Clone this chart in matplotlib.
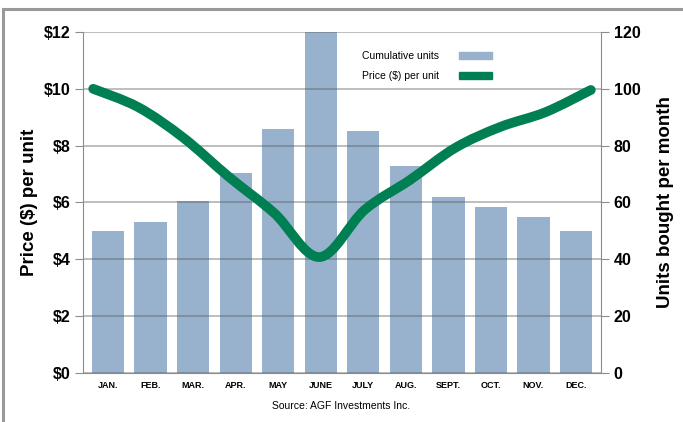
import numpy as np
import matplotlib
matplotlib.use('Agg')
import matplotlib.pyplot as plt
from matplotlib.patches import Patch, PathPatch
from matplotlib.lines import Line2D
from matplotlib.path import Path

plt.rcParams['font.family'] = ['Liberation Sans', 'DejaVu Sans']

# 数据
months = ['JAN.', 'FEB.', 'MAR.', 'APR.', 'MAY', 'JUNE', 'JULY', 'AUG.', 'SEPT.', 'OCT.', 'NOV.', 'DEC.']
units = [50, 53, 60.5, 70.5, 86, 121, 85, 73, 62, 58.5, 55, 50]
price = [10.0, 9.35, 8.27, 6.9, 5.63, 4.08, 5.74, 6.79, 7.92, 8.66, 9.18, 9.96]
price_ticks = [0, 2, 4, 6, 8, 10, 12]
unit_ticks = [0, 20, 40, 60, 80, 100, 120]

bar_color = '#98B2CD'
line_color = '#008052'
gray = '#8c8c8c'


def smooth_path(xs, ys):
    # Catmull-Rom -> 三次贝塞尔, 只是画法, 数据点不变
    verts = [(xs[0], ys[0])]
    codes = [Path.MOVETO]
    n = len(xs)
    for i in range(n - 1):
        p0 = np.array([xs[max(i - 1, 0)], ys[max(i - 1, 0)]])
        p1 = np.array([xs[i], ys[i]])
        p2 = np.array([xs[i + 1], ys[i + 1]])
        p3 = np.array([xs[min(i + 2, n - 1)], ys[min(i + 2, n - 1)]])
        c1 = p1 + (p2 - p0) / 6
        c2 = p2 - (p3 - p1) / 6
        verts += [tuple(c1), tuple(c2), tuple(p2)]
        codes += [Path.CURVE4] * 3
    return Path(verts, codes)


fig = plt.figure(figsize=(6.83, 4.22), dpi=100)
ax = fig.add_axes([0.1215, 0.1161, 0.7585, 0.8081])
ax2 = ax.twinx()

x = np.arange(len(months))
ax2.bar(x, units, width=0.76, color=bar_color, zorder=1)
ax2.set_ylim(0, 120)
ax2.set_yticks(unit_ticks)

# 价格线, 起止点比柱子稍宽一点
xl = np.linspace(-0.35, 11.35, len(price))
ax.add_patch(PathPatch(smooth_path(xl, price), facecolor='none', edgecolor=line_color,
                       lw=7, capstyle='round', joinstyle='round', zorder=3))
ax.set_ylim(0, 12)
ax.set_yticks(price_ticks)
ax.set_yticklabels([f'${v}' for v in price_ticks])
ax.set_xlim(-0.59, 11.59)
ax.set_xticks(x)
ax.set_xticklabels(months)

ax.set_zorder(ax2.get_zorder() + 1)
ax.patch.set_visible(False)
ax.grid(axis='y', color='#555555', alpha=0.45, lw=1.2, zorder=0)
ax.set_axisbelow(True)

for a in (ax, ax2):
    a.spines['top'].set_visible(False)
    for s in ('left', 'right', 'bottom'):
        a.spines[s].set_color(gray)
ax.spines['right'].set_visible(False)
ax2.spines['left'].set_visible(False)
ax2.spines['bottom'].set_visible(False)

ax.tick_params(axis='y', length=6, color=gray, labelsize=11.5, pad=3)
ax2.tick_params(axis='y', length=6, color=gray, labelsize=11.5, pad=3)
ax.tick_params(axis='x', length=0, labelsize=6.5, pad=6)
for lab in ax.get_yticklabels() + ax2.get_yticklabels() + ax.get_xticklabels():
    lab.set_fontweight('bold')

ax.set_ylabel('Price ($) per unit', fontsize=13.5, fontweight='bold', labelpad=4)
ax2.set_ylabel('Units bought per month', fontsize=13.5, fontweight='bold', labelpad=12)

handles = [Patch(color=bar_color), Patch(color=line_color)]
ax.legend(handles, ['Cumulative units', 'Price ($) per unit'], loc='upper left',
          bbox_to_anchor=(0.52, 0.972), frameon=False, markerfirst=False,
          fontsize=7.5, handlelength=3.2, handleheight=0.7, labelspacing=0.95,
          handletextpad=1.9)

fig.text(0.5, 0.038, 'Source: AGF Investments Inc.', ha='center', va='center', fontsize=7.5)

# 外框
fig.add_artist(Line2D([3 / 683, 3 / 683], [0, 1 - 9 / 422], color='#999999', lw=2.2, transform=fig.transFigure))
fig.add_artist(Line2D([3 / 683, 1], [1 - 9 / 422, 1 - 9 / 422], color='#999999', lw=2.2, transform=fig.transFigure))

fig.savefig('out.png', dpi=100)
